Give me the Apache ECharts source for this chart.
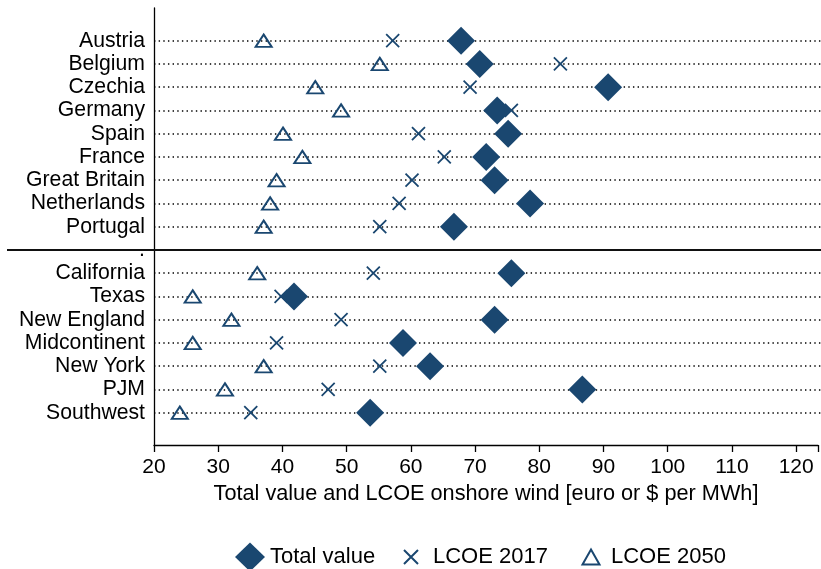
<!DOCTYPE html>
<html>
<head>
<meta charset="utf-8">
<script src="https://cdn.jsdelivr.net/npm/echarts@6/dist/echarts.min.js"></script>
<style>
  html, body { margin: 0; padding: 0; background: #fff; }
  #chart { width: 821px; height: 569px; }
</style>
</head>
<body>
<div id="chart"></div>
<script>
// ---- Data ----
const categories = ['Austria', 'Belgium', 'Czechia', 'Germany', 'Spain', 'France', 'Great Britain', 'Netherlands', 'Portugal', '.',
                    'California', 'Texas', 'New England', 'Midcontinent', 'New York', 'PJM', 'Southwest'];
const totalValue = [67.6, 70.5, 90.4, 73.2, 74.9, 71.5, 72.8, 78.3, 66.5, null, 75.4, 41.7, 72.8, 58.6, 62.8, 86.4, 53.5];
const lcoe2017   = [57, 83, 69, 75.4, 61, 65, 60, 58, 55, null, 54, 39.7, 49, 39, 55, 47, 35];
const lcoe2050   = [37, 55, 45, 49, 40, 43, 39, 38, 37, null, 36, 26, 32, 26, 37, 31, 24];
const xTicks = [20, 30, 40, 50, 60, 70, 80, 90, 100, 110, 120];
const seriesNames = ['Total value', 'LCOE 2017', 'LCOE 2050'];
const separatorCategory = '.';

// ---- Style ----
const BLUE = '#1a4770';
const FONT = 'Liberation Sans, Arial, Helvetica, sans-serif';
const X_MIN = 20, X_MAX = 123.4;

function pairs(vals) {
  const out = [];
  vals.forEach((v, i) => { if (v !== null) out.push([v, categories[i]]); });
  return out;
}

const chart = echarts.init(document.getElementById('chart'), null, { renderer: 'canvas' });

const X_PATH = 'path://M0,0L10,10M0,10L10,0';
const TRI_PATH = 'path://M8.5,0L17,15L0,15Z';

const option = {
  backgroundColor: '#fff',
  animation: false,
  textStyle: { fontFamily: FONT },
  grid: [
    { left: 154, right: 0, top: 8, bottom: 124 },
    { left: 154, right: 0, top: 40.7, bottom: 156.3 }
  ],
  xAxis: [
    {
      type: 'value', gridIndex: 0, min: X_MIN, max: X_MAX, interval: 10,
      axisLine: { show: true, lineStyle: { color: '#000', width: 1.3 } },
      axisTick: { show: true, length: 7, lineStyle: { color: '#000', width: 1.3 } },
      splitLine: { show: false },
      axisLabel: {
        fontSize: 21, color: '#000', margin: 12, fontFamily: FONT,
        formatter: v => (xTicks.indexOf(v) >= 0 ? String(v) : '')
      },
      name: 'Total value and LCOE onshore wind [euro or $ per MWh]',
      nameLocation: 'middle', nameGap: 31,
      nameTextStyle: { fontSize: 21.7, color: '#000', fontFamily: FONT }
    },
    {
      type: 'value', gridIndex: 1, min: X_MIN, max: X_MAX, interval: 10, show: false
    }
  ],
  yAxis: [
    {
      type: 'value', gridIndex: 0, min: 0, max: 1,
      axisLine: { show: true, lineStyle: { color: '#000', width: 1.3 } },
      axisTick: { show: false }, axisLabel: { show: false }, splitLine: { show: false }
    },
    {
      type: 'category', gridIndex: 1, data: categories, inverse: true, boundaryGap: false,
      axisLine: { show: false }, axisTick: { show: false },
      axisLabel: { interval: 0, fontSize: 21.2, color: '#000', margin: 9, fontFamily: FONT },
      splitLine: { show: true, interval: 0, lineStyle: { color: '#000', width: 1.5, type: [1.4, 3.25] } }
    }
  ],
  legend: [
    {
      data: [seriesNames[0]], left: 235, top: 542.5, padding: 0,
      itemWidth: 30, itemHeight: 29,
      textStyle: { fontSize: 22, color: '#000', fontFamily: FONT }
    },
    {
      data: [seriesNames[1]], left: 403, top: 546, padding: 0,
      itemWidth: 34, itemHeight: 14, symbolKeepAspect: true,
      textStyle: { fontSize: 22, color: '#000', fontFamily: FONT }
    },
    {
      data: [seriesNames[2]], left: 581.5, top: 546, padding: 0,
      itemWidth: 30, itemHeight: 15, symbolKeepAspect: true,
      textStyle: { fontSize: 22, color: '#000', fontFamily: FONT }
    }
  ],
  series: [
    {
      name: seriesNames[2], type: 'scatter', xAxisIndex: 1, yAxisIndex: 1, z: 2,
      symbol: TRI_PATH, symbolSize: [16, 14], symbolKeepAspect: true,
      itemStyle: { color: 'rgba(0,0,0,0)', borderColor: BLUE, borderWidth: 2, opacity: 1 },
      data: pairs(lcoe2050)
    },
    {
      name: seriesNames[1], type: 'scatter', xAxisIndex: 1, yAxisIndex: 1, z: 3,
      symbol: X_PATH, symbolSize: 13,
      itemStyle: { color: 'rgba(0,0,0,0)', borderColor: BLUE, borderWidth: 1.8, opacity: 1 },
      data: pairs(lcoe2017)
    },
    {
      name: seriesNames[0], type: 'scatter', xAxisIndex: 1, yAxisIndex: 1, z: 4,
      symbol: 'diamond', symbolSize: 28,
      itemStyle: { color: BLUE, opacity: 1 },
      data: pairs(totalValue)
    }
  ]
};

chart.setOption(option);

// Solid separator line across the blank row
const sepY = chart.convertToPixel({ yAxisIndex: 1 }, separatorCategory);
chart.setOption({
  graphic: [{
    type: 'line', z: 10,
    shape: { x1: 7, y1: sepY, x2: 821, y2: sepY },
    style: { stroke: '#111', lineWidth: 2 }
  }]
});
</script>
</body>
</html>
